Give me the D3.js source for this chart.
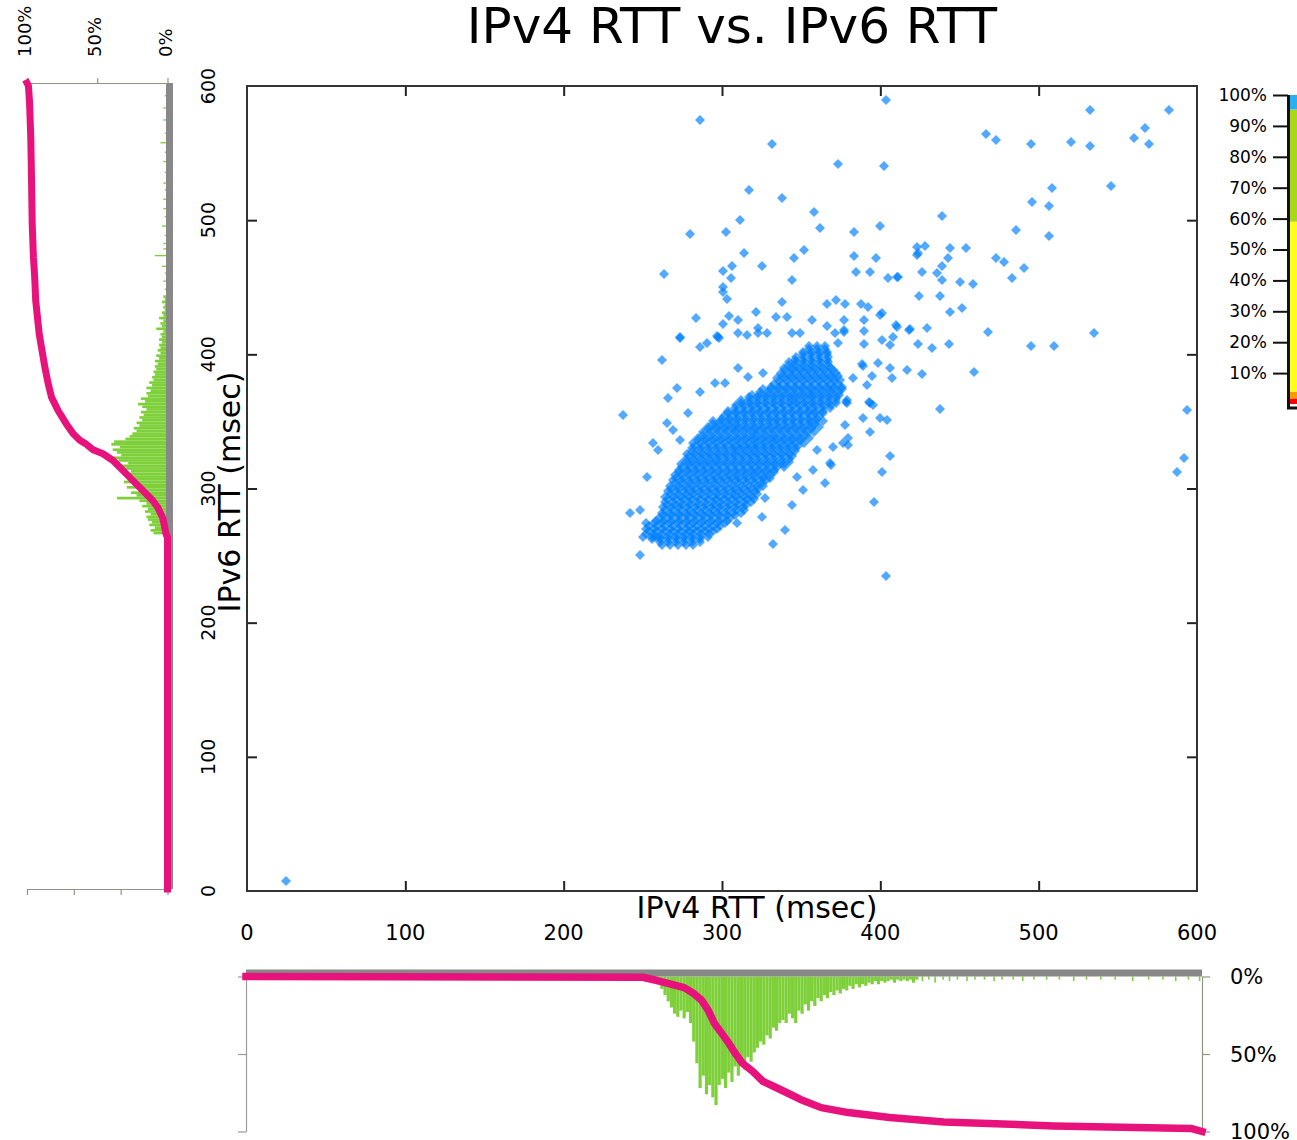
<!DOCTYPE html>
<html><head><meta charset="utf-8">
<script src="https://cdn.jsdelivr.net/npm/d3@7"></script>
<style>
body{margin:0;background:#fff}
svg{display:block}
text{font-family:"DejaVu Sans",Verdana,sans-serif;fill:#000}
</style>
</head><body>
<svg id="c" width="1297" height="1140"></svg>
<script>
// ---------------- DATA ----------------
const chartTitle = "IPv4 RTT vs. IPv6 RTT";
const xAxisTitle = "IPv4 RTT (msec)";
const yAxisTitle = "IPv6 RTT (msec)";
const rttTicks = [0, 100, 200, 300, 400, 500, 600];
const marginPctTicksTop = [100, 50, 0];
const marginPctTicksBottom = [0, 100/3, 200/3, 100];
const bottomPctTicks = [0, 50, 100];
const legendTicks = [10, 20, 30, 40, 50, 60, 70, 80, 90, 100];
const legendBreaks = [0, 1.8, 4, 59, 95.3, 100];
const legendColors = ["#ff0000", "#ff9900", "#ffff1a", "#a8d818", "#28b0f0"];

// scattered points [IPv4 ms, IPv6 ms]
const outlierPoints = [
 [24.6,7.7],
 [286,574.6],[331.8,556.8],[373.3,541.9],[402.3,540.4],[403.6,589.6],[316.9,522.5],[337.9,516.5],[358.3,506],[362,494],
 [279.8,489.7],[302.5,491],[311.4,500],[383.6,491],[399.8,495.8],[313.9,475.3],[345.5,471.7],[352,477.7],[383.6,473.3],
 [397.4,471.7],[263.4,459.9],[300.7,461.8],[306,466],[305.8,456.9],[325.3,466],[344.4,455.4],[384.8,461.4],[393.6,461.4],
 [404.8,456.9],[410.3,457.8],[300.7,450.4],[300.7,446.6],[302.9,441.6],[338.1,439.2],[366,437.5],[372.3,440.5],[377.7,437.5],
 [387.5,437.5],[392,435.5],[283.6,426.8],[304.2,428.7],[310.3,425.5],[321.7,431.2],[334.1,428],[340.8,428],[357,425.5],
 [377.2,425.5],[389.9,425.5],[399.8,429.3],[400.8,430.5],[409.7,421.8],[410.5,420.5],[300.4,422.3],[366.1,421.1],[377.2,418.2],
 [323,419.3],[273.5,413],[296.6,413.6],[298,412.5],
 [532.6,582.1],[582,582.1],[467,564],[473.3,559.7],[494.9,556.8],[520.2,558.3],[532.6,555.3],[560.4,561.3],[567,568.7],
 [569.5,556.8],[508.6,524.2],[545.5,525.4],[496,513.5],[506.3,510.5],[439.2,503.1],[485.9,492.7],[506.3,488.3],[423,480.2],
 [428,480.9],[423,474],[424,475.5],[444,479.4],[454.2,478.9],[473.3,471.7],[478.4,468.8],[490.8,464],[483.4,456.9],[443,471.5],
 [439.2,466],[435.6,460.3],[439,455.4],[426.5,461.5],[411.4,457.8],[450.5,454.1],[458.3,452.1],[424.2,443.5],[437.9,443.5],
 [444.2,431.5],[451.8,434.2],[418.7,418.6],[429.3,419.8],[468.2,416.8],[535.2,415.6],
 [494.9,406.2],[509.9,406.2],[459.4,386.6],[437.9,359.5],[593.5,358.5],[592,322.5],[587.2,312],[406.3,324.2],[401.3,312],
 [396.3,289.6],[403.8,234.5],[432.8,404.4],[443.2,407.4],[424,407.4],[416.9,388.3],[426.5,385.3],[407.2,382],[406.1,389.5],
 [398.7,393.2],[388.2,392.5],[389,391],[394.9,383.8],[391.4,377.1],[383,382],[392.6,364.6],[393.5,363.5],[378.1,364.6],
 [379,363.5],[395.6,362.2],[389.3,352.2],[399.8,352.2],[404,351],[393.5,341.8],[377.7,347.3],[379.8,337.3],[379.8,332.4],
 [389.7,417.5],[418.2,418.2],[377.2,416.3],[389.7,407.4],[401.3,410.6],[408.1,413.1],[406.1,407],
 [273.5,411.9],[261.9,395.8],[286,405.6],[290.3,408.1],[297.7,413],[310.3,415.6],[315.6,414.4],[310.3,389.5],[316.6,383.3],
 [326.1,385.8],[271.4,374.6],[266.1,367.1],[286.1,372.1],[295.6,378.3],[301.9,378.3],[237.7,354.8],[265.1,348.5],[269.3,343.6],
 [278.7,356],[256.6,333.6],[259.8,328.7],[273.5,336.1],[252.4,308.7],[241.9,281.4],[248.2,283.9],[250.3,264.1],[257.7,264.1],
 [248.2,250.4],[309.3,274],[325.1,278.9],[332.4,259],[339.8,269],[344,287.7],[327.2,292.6],[347.2,308.7],[351.4,298.9],
 [357.7,313.8],[365.1,303.8],[368.2,318.7],[369,317.5],[370.3,331.1],[376.6,333.6],[359.7,328.7],[378.7,366],[374.5,380.9],
 [373.4,408.1],[322.7,416],[328.4,416],[344.2,416],[349.3,416],[371.4,416]
];

// dense core: [IPv6 ms, [IPv4 ms ...]]
const coreRows = [
 [258,[262,267,272,277,282]],
 [260,[261,266,271,276,281,286]],
 [262,[256,261,266,271,276,281,286]],
 [264,[256,261,266,271,276,281,286,291]],
 [266,[252,257,262,267,272,277,282,287,292]],
 [268,[254,259,264,269,274,279,284,289,294]],
 [270,[252,257,262,267,272,277,282,287,292,297]],
 [272,[254,259,264,269,274,279,284,289,294,299]],
 [274,[252,257,262,267,272,277,282,287,292,297,302]],
 [276,[258,263,268,273,278,283,288,293,298,303]],
 [278,[260,265,270,275,280,285,290,295,300,305]],
 [280,[263,268,273,278,283,288,293,298,303,308]],
 [282,[262,267,272,277,282,287,292,297,302,307,312]],
 [284,[264,269,274,279,284,289,294,299,304,309,314]],
 [286,[263,268,273,278,283,288,293,298,303,308,313]],
 [288,[265,270,275,280,285,290,295,300,305,310,315]],
 [290,[264,269,274,279,284,289,294,299,304,309,314,318]],
 [292,[266,271,276,281,286,291,296,301,306,311,316,320]],
 [294,[264,269,274,279,284,289,294,299,304,309,314,319]],
 [296,[267,272,277,282,287,292,297,302,307,312,317,322]],
 [298,[266,271,276,281,286,291,296,301,306,311,316,321]],
 [300,[268,273,278,283,288,293,298,303,308,313,318,323]],
 [302,[267,272,277,282,287,292,297,302,307,312,317,322,326]],
 [304,[270,275,280,285,290,295,300,305,310,315,320,325]],
 [306,[269,274,279,284,289,294,299,304,309,314,319,324,328]],
 [308,[271,276,281,286,291,296,301,306,311,316,321,326,330]],
 [310,[270,275,280,285,290,295,300,305,310,315,320,325,330]],
 [312,[273,278,283,288,293,298,303,308,313,318,323,328,333]],
 [314,[273,278,283,288,293,298,303,308,313,318,323,328,333]],
 [316,[275,280,285,290,295,300,305,310,315,320,325,330,335,339]],
 [318,[274,279,284,289,294,299,304,309,314,319,324,329,334,339]],
 [320,[277,282,287,292,297,302,307,312,317,322,327,332,337,342]],
 [322,[277,282,287,292,297,302,307,312,317,322,327,332,337,342]],
 [324,[279,284,289,294,299,304,309,314,319,324,329,334,339,344]],
 [326,[278,283,288,293,298,303,308,313,318,323,328,333,338,343]],
 [328,[281,286,291,296,301,306,311,316,321,326,331,336,341,346]],
 [330,[281,286,291,296,301,306,311,316,321,326,331,336,341,346]],
 [332,[283,288,293,298,303,308,313,318,323,328,333,338,343,348]],
 [334,[282,287,292,297,302,307,312,317,322,327,332,337,342,347,352]],
 [336,[285,290,295,300,305,310,315,320,325,330,335,340,345,350]],
 [338,[285,290,295,300,305,310,315,320,325,330,335,340,345,350,355]],
 [340,[288,293,298,303,308,313,318,323,328,333,338,343,348,353]],
 [342,[288,293,298,303,308,313,318,323,328,333,338,343,348,353,358]],
 [344,[291,296,301,306,311,316,321,326,331,336,341,346,351,356]],
 [346,[291,296,301,306,311,316,321,326,331,336,341,346,351,356,361]],
 [348,[294,299,304,309,314,319,324,329,334,339,344,349,354,359]],
 [350,[294,299,304,309,314,319,324,329,334,339,344,349,354,359,364]],
 [352,[300,305,310,315,320,325,330,335,340,345,350,355,360]],
 [354,[301,306,311,316,321,326,331,336,341,346,351,356,361]],
 [356,[304,309,314,319,324,329,334,339,344,349,354,359,364]],
 [358,[304,309,314,319,324,329,334,339,344,349,354,359,364]],
 [360,[308,313,318,323,328,333,338,343,348,353,358,363,368]],
 [362,[309,314,319,324,329,334,339,344,349,354,359,364,369]],
 [364,[312,317,322,327,332,337,342,347,352,357,362,367,372]],
 [366,[312,317,322,327,332,337,342,347,352,357,362,367,372]],
 [368,[317,322,327,332,337,342,347,352,357,362,367,372]],
 [370,[319,324,329,334,339,344,349,354,359,364,369,374]],
 [372,[324,329,334,339,344,349,354,359,364,369,374]],
 [374,[326,331,336,341,346,351,356,361,366,371,376]],
 [376,[331,336,341,346,351,356,361,366,371,376]],
 [378,[333,338,343,348,353,358,363,368,373]],
 [380,[336,341,346,351,356,361,366,371]],
 [382,[335,340,345,350,355,360,365,370]],
 [384,[338,343,348,353,358,363,368,373]],
 [386,[337,342,347,352,357,362,367,372]],
 [388,[340,345,350,355,360,365,370]],
 [390,[339,344,349,354,359,364,369]],
 [392,[342,347,352,357,362,367]],
 [394,[342,347,352,357,362,367]],
 [396,[346,351,356,361,366]],
 [398,[347,352,357,362,367]],
 [400,[351,356,361,366]],
 [402,[351,356,361,366]],
 [404,[355,360,365]],
 [406,[355,360,365]]
];

// IPv4 histogram (2 ms bins) [start ms, relative depth %]
const ipv4Hist = [
 [256,2],[258,4],[260,8],[262,12],[264,16],[266,20],[268,24],[270,26],[272,22],[274,27],[276,23],[278,30],
 [280,42],[282,56],[284,72],[286,64],[288,76],[290,70],[292,78],[294,83],[296,70],[298,66],[300,72],[302,62],
 [304,68],[306,58],[308,64],[310,56],[312,60],[314,52],[316,55],[318,49],[320,46],[322,42],[324,44],[326,38],
 [328,40],[330,33],[332,35],[334,30],[336,28],[338,30],[340,24],[342,27],[344,30],[346,22],[348,24],[350,18],
 [352,22],[354,16],[356,19],[358,14],[360,16],[362,12],[364,14],[366,10],[368,12],[370,9],[372,11],[374,8],
 [376,9],[378,6],[380,8],[382,5],[384,7],[386,5],[388,6],[390,4],[392,5],[394,3],[396,5],[398,3],[400,4],
 [402,3],[404,2],[406,4],[408,2],[410,3],[412,2],[414,3],[416,2],[418,4],[420,2]
];
// sparse IPv4 bars (1 ms)
const ipv4HistSparse = [
 [424,3],[428,2],[432,4],[437,2],[441,3],[446,2],[452,3],[457,2],[463,2],[469,3],[474,2],[481,2],[487,3],
 [494,2],[502,2],[510,2],[519,3],[527,2],[536,2],[545,2],[556,3],[566,2],[575,2],[583,3],[591,2],[598,3]
];
// IPv6 histogram (2 ms bins)
const ipv6Hist = [
 [262,3],[264,10],[266,12],[268,9],[270,13],[272,11],[274,14],[276,15],[278,12],[280,16],[282,14],[284,18],
 [286,15],[288,20],[290,36],[292,22],[294,26],[296,20],[298,29],[300,24],[302,31],[304,27],[306,30],[308,32],
 [310,26],[312,30],[314,33],[316,28],[318,35],[320,41],[322,33],[324,36],[326,39],[328,34],[330,40],[332,38],
 [334,30],[336,27],[338,25],[340,22],[342,24],[344,20],[346,22],[348,18],[350,20],[352,17],[354,19],[356,15],
 [358,18],[360,21],[362,16],[364,19],[366,14],[368,15],[370,12],[372,15],[374,11],[376,13],[378,10],[380,11],
 [382,9],[384,10],[386,8],[388,9],[390,7],[392,9],[394,6],[396,8],[398,5],[400,7],[402,5],[404,6],[406,4],
 [408,6],[410,4],[412,5],[414,3],[416,8],[418,4],[420,5],[422,3],[424,6],[426,3],[428,4],[430,2],[432,3],
 [434,2],[436,4],[438,2],[440,3]
];
const ipv6HistSparse = [
 [446,2],[452,3],[458,2],[463,4],[471,9],[476,3],[480,3],[486,2],[493,4],[500,2],[506,3],[513,3],[520,2],
 [525,3],[533,2],[541,3],[548,2],[555,5],[562,2],[572,3],[581,3],[590,2]
];
// cumulative curves [ms, %]
const ipv4Cdf = [
 [0,0],[249,0.5],[258,2.6],[266,4.7],[275,7.2],[281,11],[286,15.4],[290,21.7],[294,30.3],[298.6,36.7],[303,43],
 [307,49.5],[311.5,55.9],[318,61.2],[324.4,67.6],[331,70.8],[339.5,75],[348,79.3],[361,84.6],[378,87.8],[404,91],
 [438,93.8],[507,96.4],[593,98],[600,100]
];
const ipv6Cdf = [
 [0,0],[262,0],[264,1],[276,3.3],[284,6.9],[289,10.4],[294,15.1],[299,19.9],[304,24.6],[309,29.3],[314,34],
 [319,38.8],[324,45.9],[327,53],[331,57.7],[334,62.4],[339,67.2],[346,71.9],[356,77.8],[366,82.5],[376,84.9],
 [388,87.2],[413,91.3],[438,93.8],[455,94.5],[470,95.4],[495,96.3],[530,96.8],[559,97.3],[586,98.2],[598,99],[600,100]
];

// ---------------- DRAW ----------------
const svg = d3.select("#c");
const x = d3.scaleLinear().domain([0,600]).range([247,1197]);
const y = d3.scaleLinear().domain([0,600]).range([891,86]);
const lx = d3.scaleLinear().domain([0,100]).range([167.5,27]);
const ly = d3.scaleLinear().domain([0,600]).range([889,83]);
const bx = d3.scaleLinear().domain([0,600]).range([246,1202]);
const by = d3.scaleLinear().domain([0,100]).range([976.5,1131.5]);
const gy = d3.scaleLinear().domain([0,100]).range([404,95]);

const PINK = "#e8127c", GREEN = "#7ed03a", GRAY = "#888888", BLUE = "#0080ff";

// title
svg.append("text").attr("x",732).attr("y",43).attr("text-anchor","middle")
  .style("font-size","50px").text(chartTitle);

// ---- main frame ----
const gMain = svg.append("g");
const inner = [100,200,300,400,500];
gMain.append("g").attr("transform","translate(0,86)")
  .call(d3.axisTop(x).tickValues(inner).tickSizeInner(-10).tickSizeOuter(0).tickFormat(""));
gMain.append("g").attr("transform","translate(0,891)")
  .call(d3.axisBottom(x).tickValues(inner).tickSizeInner(-10).tickSizeOuter(0).tickFormat(""));
gMain.append("g").attr("transform","translate(247,0)")
  .call(d3.axisLeft(y).tickValues(inner).tickSizeInner(-10).tickSizeOuter(0).tickFormat(""));
gMain.append("g").attr("transform","translate(1197,0)")
  .call(d3.axisRight(y).tickValues(inner).tickSizeInner(-10).tickSizeOuter(0).tickFormat(""));
gMain.selectAll(".domain").remove();
gMain.selectAll(".tick line").attr("stroke","#222").attr("stroke-width",2);
gMain.append("rect").attr("x",x(0)).attr("y",y(600)).attr("width",x(600)-x(0)).attr("height",y(0)-y(600))
  .attr("fill","none").attr("stroke","#333").attr("stroke-width",2);

// tick labels
svg.append("g").selectAll("text.xl").data(rttTicks).join("text").attr("class","xl")
  .attr("x",d=>x(d)).attr("y",940).attr("text-anchor","middle").style("font-size","21px").text(d=>d);
svg.append("g").selectAll("text.yl").data(rttTicks).join("text").attr("class","yl")
  .attr("transform",d=>`translate(215,${y(d)}) rotate(-90)`).attr("text-anchor","middle")
  .style("font-size","19px").text(d=>d);

// axis titles
svg.append("text").attr("x",757).attr("y",918).attr("text-anchor","middle").style("font-size","30px").text(xAxisTitle);
svg.append("text").attr("transform","translate(240,492) rotate(-90)").attr("text-anchor","middle")
  .style("font-size","30px").text(yAxisTitle);

// ---- scatter ----
const allPts = [];
coreRows.forEach(r => r[1].forEach(v4 => allPts.push([v4, r[0]])));
outlierPoints.forEach(p => allPts.push(p));
svg.append("g").selectAll("path").data(allPts).join("path")
  .attr("d", d => {
    const cx = Math.round(x(d[0])), cy = Math.round(y(d[1]));
    return `M${cx},${cy-5}L${cx+5},${cy}L${cx},${cy+5}L${cx-5},${cy}Z`;
  })
  .attr("fill", BLUE).attr("fill-opacity", 0.68);

// ---- left marginal (IPv6) ----
const gL = svg.append("g");
gL.selectAll("rect.h").data(ipv6Hist).join("rect").attr("class","h")
  .attr("x",d=>lx(d[1])).attr("width",d=>lx(0)-lx(d[1]))
  .attr("y",d=>ly(d[0]+2)).attr("height",d=>ly(d[0])-ly(d[0]+2)).attr("fill",GREEN);
gL.selectAll("rect.s").data(ipv6HistSparse).join("rect").attr("class","s")
  .attr("x",d=>lx(d[1])).attr("width",d=>lx(0)-lx(d[1]))
  .attr("y",d=>ly(d[0]+1)).attr("height",d=>ly(d[0])-ly(d[0]+1)).attr("fill",GREEN);
gL.append("rect").attr("x",166).attr("y",ly(600)).attr("width",7).attr("height",ly(0)-ly(600)).attr("fill",GRAY);
const topAx = gL.append("g").attr("transform",`translate(0,${ly(600)})`)
  .call(d3.axisTop(lx).tickValues(marginPctTicksTop).tickSize(5).tickSizeOuter(0).tickFormat(""));
const botAx = gL.append("g").attr("transform",`translate(0,${ly(0)})`)
  .call(d3.axisBottom(lx).tickValues(marginPctTicksBottom).tickSize(6).tickSizeOuter(0).tickFormat(""));
[topAx, botAx].forEach(a => { a.selectAll("path,line").attr("stroke","#8c9680").attr("stroke-width",1.2); });
gL.append("path").datum(ipv6Cdf)
  .attr("d", d3.line().x(d=>lx(d[1])).y(d=>ly(d[0])))
  .attr("fill","none").attr("stroke",PINK).attr("stroke-width",7).attr("stroke-linecap","square").attr("stroke-linejoin","round");
svg.append("g").selectAll("text.lp").data(marginPctTicksTop).join("text").attr("class","lp")
  .attr("transform",d=>`translate(${lx(d)+4},57) rotate(-90)`).attr("text-anchor","start")
  .style("font-size","18px").text(d=>d+"%");

// ---- bottom marginal (IPv4) ----
const gB = svg.append("g");
gB.selectAll("rect.h").data(ipv4Hist).join("rect").attr("class","h")
  .attr("x",d=>bx(d[0])).attr("width",d=>bx(d[0]+2)-bx(d[0]))
  .attr("y",by(0)).attr("height",d=>by(d[1])-by(0)).attr("fill",GREEN);
gB.selectAll("rect.s").data(ipv4HistSparse).join("rect").attr("class","s")
  .attr("x",d=>bx(d[0])).attr("width",d=>bx(d[0]+1)-bx(d[0]))
  .attr("y",by(0)).attr("height",d=>by(d[1])-by(0)).attr("fill",GREEN);
gB.append("rect").attr("x",bx(0)).attr("y",by(0)-7).attr("width",bx(600)-bx(0)).attr("height",7).attr("fill",GRAY);
const lAx = gB.append("g").attr("transform",`translate(${bx(0)},0)`)
  .call(d3.axisLeft(by).tickValues(bottomPctTicks).tickSize(8).tickSizeOuter(0).tickFormat(""));
const rAx = gB.append("g").attr("transform",`translate(${bx(600)},0)`)
  .call(d3.axisRight(by).tickValues(bottomPctTicks).tickSize(8).tickSizeOuter(0).tickFormat(""));
lAx.selectAll("path,line").attr("stroke","#9a9a9a").attr("stroke-width",1.2);
rAx.selectAll("path,line").attr("stroke","#8c9680").attr("stroke-width",1.2);
gB.append("path").datum(ipv4Cdf)
  .attr("d", d3.line().x(d=>bx(d[0])).y(d=>by(d[1])))
  .attr("fill","none").attr("stroke",PINK).attr("stroke-width",7.5).attr("stroke-linecap","square").attr("stroke-linejoin","round");
svg.append("g").selectAll("text.bp").data(bottomPctTicks).join("text").attr("class","bp")
  .attr("x",1230).attr("y",d=>by(d)).attr("dy","0.36em").style("font-size","21px").text(d=>d+"%");

// ---- colour legend ----
const gG = svg.append("g");
const bands = legendColors.map((c,i)=>({lo:legendBreaks[i], hi:legendBreaks[i+1], c}));
gG.selectAll("rect").data(bands).join("rect")
  .attr("x",1290).attr("width",10).attr("y",d=>gy(d.hi)).attr("height",d=>gy(d.lo)-gy(d.hi)).attr("fill",d=>d.c);
const gAx = gG.append("g").attr("transform","translate(1288,0)")
  .call(d3.axisLeft(gy).tickValues(legendTicks).tickSize(15).tickSizeOuter(0).tickPadding(6).tickFormat(d=>d+"%"));
gAx.select(".domain").remove();
gAx.selectAll("line").attr("stroke","#111").attr("stroke-width",2);
gAx.selectAll("text").style("font-size","17px").attr("fill","#000");
gG.append("path").attr("d",`M1288.5,${gy(100)}V${gy(0)+4}H1297`).attr("fill","none").attr("stroke","#111").attr("stroke-width",3);
</script>
</body></html>
